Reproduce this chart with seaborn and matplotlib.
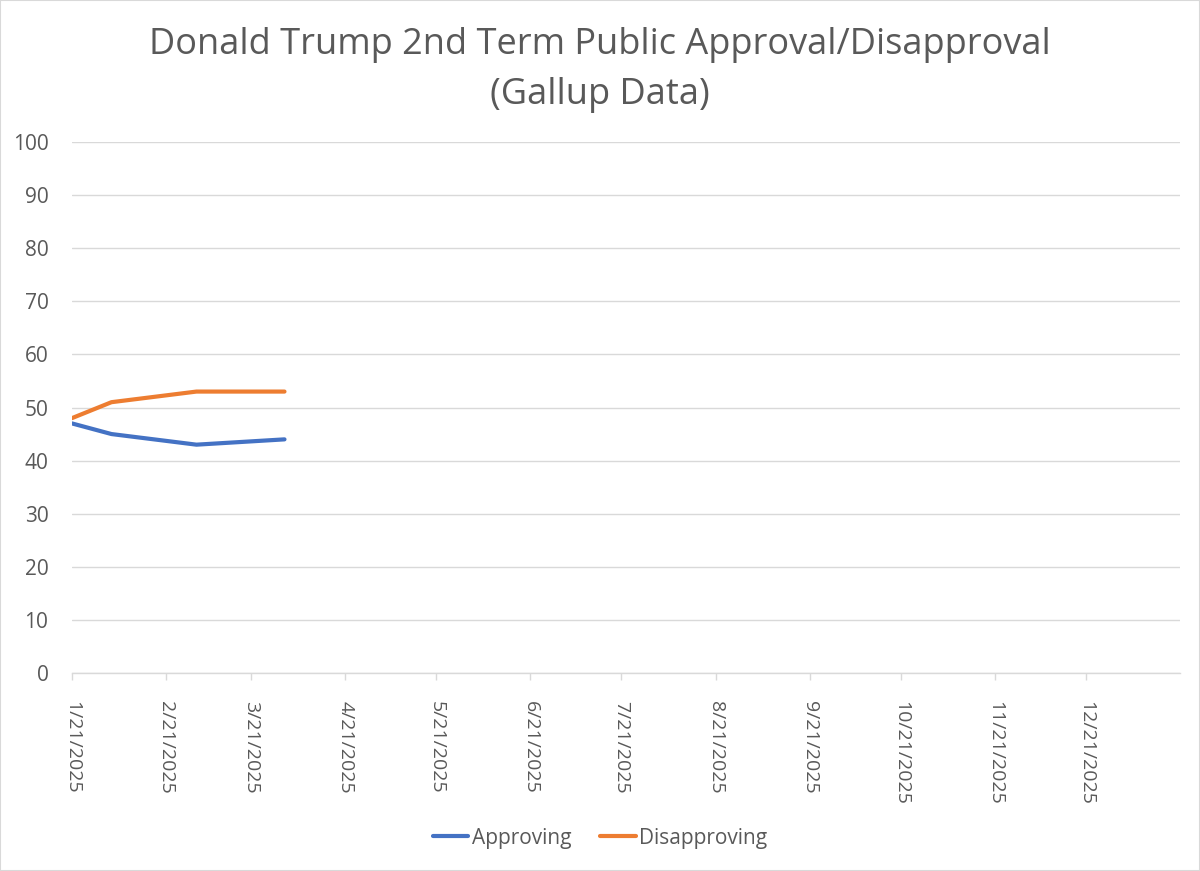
import matplotlib
matplotlib.use("Agg")
import matplotlib.pyplot as plt
from matplotlib.patches import Rectangle
from matplotlib.lines import Line2D
import seaborn as sns
import pandas as pd

dates = ["2025-01-21", "2025-02-03", "2025-03-03", "2025-04-01"]
approving = [47, 45, 43, 44]
disapproving = [48, 51, 53, 53]
tick_dates = ["2025-01-21", "2025-02-21", "2025-03-21", "2025-04-21", "2025-05-21", "2025-06-21",
              "2025-07-21", "2025-08-21", "2025-09-21", "2025-10-21", "2025-11-21", "2025-12-21"]
tick_labels = ["1/21/2025", "2/21/2025", "3/21/2025", "4/21/2025", "5/21/2025", "6/21/2025",
               "7/21/2025", "8/21/2025", "9/21/2025", "10/21/2025", "11/21/2025", "12/21/2025"]
yticks = [0, 10, 20, 30, 40, 50, 60, 70, 80, 90, 100]

sns.set_theme(style="white")
plt.rcParams['font.family'] = ['Open Sans', 'DejaVu Sans']

df = pd.DataFrame({
    "date": pd.to_datetime(dates * 2),
    "value": approving + disapproving,
    "series": ["Approving"] * len(dates) + ["Disapproving"] * len(dates),
})

fig = plt.figure(figsize=(12, 8.71), dpi=100)
ax = fig.add_axes([72/1200, 1 - 673/871, (1180 - 72)/1200, (673 - 142)/871])

sns.lineplot(data=df, x="date", y="value", hue="series",
             palette={"Approving": "#4472C4", "Disapproving": "#ED7D31"},
             linewidth=3, ax=ax, legend=False)

ax.set_xlim(pd.Timestamp("2025-01-21"), pd.Timestamp("2026-01-21"))
ax.set_ylim(0, 100)
ax.set_yticks(yticks)
ax.set_yticklabels([str(v) for v in yticks])
ax.set_xticks(pd.to_datetime(tick_dates))
ax.set_xticklabels(tick_labels, rotation=270)
ax.yaxis.grid(True, color="#D9D9D9", linewidth=1)
ax.xaxis.grid(False)
for s in ["left", "right", "top"]:
    ax.spines[s].set_visible(False)
ax.spines["bottom"].set_color("#D9D9D9")
ax.spines["bottom"].set_linewidth(1)
ax.tick_params(axis="x", which="major", bottom=True, length=5, width=1, color="#D9D9D9",
               labelsize=14, labelcolor="#595959", pad=15)
ax.tick_params(axis="y", left=False, length=0, labelsize=15, labelcolor="#595959", pad=17)
ax.set_xlabel("")
ax.set_ylabel("")

fig.text(0.5, 1 - 45/871, "Donald Trump 2nd Term Public Approval/Disapproval", ha="center", va="center",
         fontsize=26, color="#595959")
fig.text(0.5, 1 - 95/871, "(Gallup Data)", ha="center", va="center", fontsize=26, color="#595959")

handles = [Line2D([], [], color="#4472C4", linewidth=3), Line2D([], [], color="#ED7D31", linewidth=3)]
fig.legend(handles, ["Approving", "Disapproving"], loc="center", bbox_to_anchor=(0.5, 1 - 838/871),
           ncol=2, frameon=False, fontsize=15, handlelength=1.7, handletextpad=0.15,
           columnspacing=1.4, labelcolor="#595959")

fig.patches.append(Rectangle((0, 0), 1, 1, transform=fig.transFigure, fill=False,
                             edgecolor="#D9D9D9", linewidth=1.5))

fig.savefig("out.png", dpi=100)
